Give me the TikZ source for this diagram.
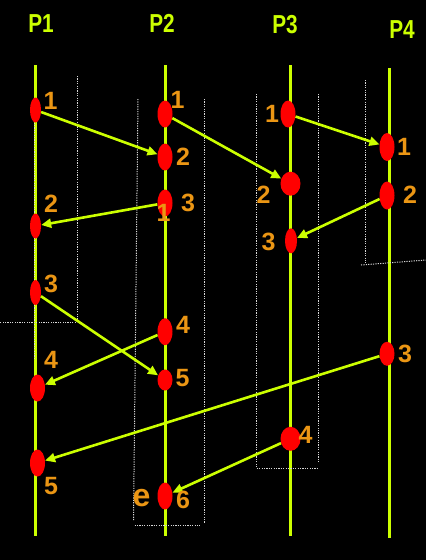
\documentclass[tikz,border=0pt]{standalone}
\usepackage{fontspec}
\setmainfont{Liberation Sans}
\usepackage{graphicx}
\usetikzlibrary{shapes.geometric,arrows.meta}
\definecolor{procgreen}{RGB}{204,255,0}
\definecolor{evorange}{RGB}{235,150,20}
\definecolor{dotgray}{RGB}{215,215,215}
\begin{document}
\begin{tikzpicture}[x=1pt,y=-1pt,
  proc/.style={line width=3pt, procgreen},
  ev/.style={ellipse, fill=red, inner sep=0pt},
  msg/.style={line width=2.6pt, procgreen, -{Triangle[length=10pt,width=9pt]}},
  num/.style={text=evorange, font=\fontsize{25}{25}\bfseries\selectfont, inner sep=0pt},
  plab/.style={text=procgreen, font=\fontsize{26}{26}\bfseries\selectfont, inner sep=0pt},
  cut/.style={dotgray, line width=1pt, dash pattern=on 1.2pt off 1.2pt}]
\fill[black] (0,0) rectangle (426,560);
\useasboundingbox (0,0) rectangle (426,560);
% process lines
\coordinate (t1) at (35.7,65);  \coordinate (b1) at (35.7,536);
\coordinate (t2) at (165,65);   \coordinate (b2) at (165,536);
\coordinate (t3) at (290,65);   \coordinate (b3) at (290,536);
\coordinate (t4) at (389.5,68); \coordinate (b4) at (389.5,538);
\draw[proc] (t1) -- (b1);
\draw[proc] (t2) -- (b2);
\draw[proc] (t3) -- (b3);
\draw[proc] (t4) -- (b4);
% process labels
\node[plab] (P1) at (41,23.5) {\scalebox{0.8}[1]{P1}};
\node[plab] (P2) at (162,23.5) {\scalebox{0.8}[1]{P2}};
\node[plab] (P3) at (285,24.5) {\scalebox{0.8}[1]{P3}};
\node[plab] (P4) at (402,29.5) {\scalebox{0.8}[1]{P4}};
% dotted cut lines
\draw[cut] (77,76) -- (77,322) -- (0,322);
\draw[cut] (34,113) -- (34,360);
\draw[cut] (138,99) -- (133.5,520);
\draw[cut] (134.5,525) -- (200,525);
\draw[cut] (204.3,99) -- (204.3,523);
\draw[cut] (256.3,94) -- (256.3,468) -- (318,468);
\draw[cut] (318,94) -- (318,462);
\draw[cut] (365.3,80) -- (365.3,263);
\draw[cut] (361,265) -- (426,260);
% events
\node[ev, minimum width=11pt, minimum height=25pt] (p11) at (35.5,110) {};
\node[ev, minimum width=11pt, minimum height=25pt] (p12) at (35.5,226) {};
\node[ev, minimum width=11pt, minimum height=25pt] (p13) at (35.5,292.5) {};
\node[ev, minimum width=15pt, minimum height=27pt] (p14) at (37.5,388) {};
\node[ev, minimum width=15pt, minimum height=27pt] (p15) at (37.5,463) {};
\node[ev, minimum width=15pt, minimum height=27pt] (p21) at (165,114) {};
\node[ev, minimum width=15pt, minimum height=27pt] (p22) at (165,157) {};
\node[ev, minimum width=15pt, minimum height=27pt] (p23) at (165,203) {};
\node[ev, minimum width=15pt, minimum height=27pt] (p24) at (165,331.7) {};
\node[ev, minimum width=15pt, minimum height=21pt] (p25) at (165,380) {};
\node[ev, minimum width=15pt, minimum height=27pt] (p26) at (165,496) {};
\node[ev, minimum width=15pt, minimum height=27pt] (p31) at (288,114) {};
\node[ev, minimum width=20pt, minimum height=24pt] (p32) at (290.5,183.7) {};
\node[ev, minimum width=12pt, minimum height=25pt] (p33) at (291,240.8) {};
\node[ev, minimum width=20pt, minimum height=24pt] (p34) at (290.5,438.8) {};
\node[ev, minimum width=15pt, minimum height=28pt] (p41) at (387,147) {};
\node[ev, minimum width=15pt, minimum height=28pt] (p42) at (387,195.5) {};
\node[ev, minimum width=15pt, minimum height=24pt] (p43) at (387,353.8) {};
% messages
\draw[msg] (p11) -- (p22);
\draw[msg] (p21) -- (p32);
\draw[msg] (p31) -- (p41);
\draw[msg] (p23) -- (p12);
\draw[msg] (p42) -- (p33);
\draw[msg] (p13) -- (p25);
\draw[msg] (p24) -- (p14);
\draw[msg] (p43) -- (p15);
\draw[msg] (p34) -- (p26);
% event numbers
\node[num] (n11) at (50.5,100.5) {1};
\node[num] (n12) at (51,204) {2};
\node[num] (n13) at (51,283.5) {3};
\node[num] (n14) at (51,359.5) {4};
\node[num] (n15) at (51,486.5) {5};
\node[num] (n21) at (177.5,99.5) {1};
\node[num] (n22) at (183,156.5) {2};
\node[num] (n23) at (188,203) {3};
\node[num] (n23b) at (163.5,213) {1};
\node[num] (n24) at (183,325) {4};
\node[num] (n25) at (182.5,378) {5};
\node[num] (n26) at (183,500) {6};
\node[num, font=\fontsize{32}{32}\bfseries\selectfont] (ne) at (141.5,498.5) {e};
\node[num] (n31) at (272,113.5) {1};
\node[num] (n32) at (263.5,194.5) {2};
\node[num] (n33) at (268.5,241.5) {3};
\node[num] (n34) at (305.5,434.5) {4};
\node[num] (n41) at (404,147) {1};
\node[num] (n42) at (410,195) {2};
\node[num] (n43) at (405,353.5) {3};
\end{tikzpicture}
\end{document}
